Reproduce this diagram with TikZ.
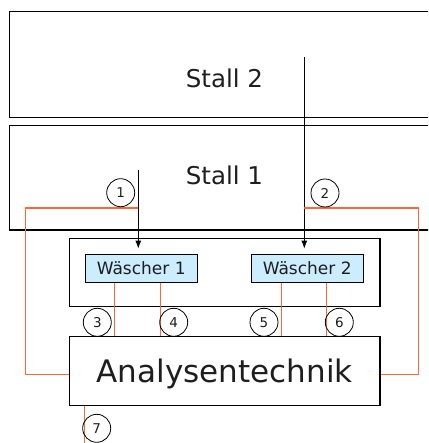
\documentclass[tikz,border=0pt]{standalone}
\usepackage{fontspec}
\setmainfont{DejaVu Sans}
\usetikzlibrary{calc,arrows.meta,positioning}
\definecolor{probeorange}{RGB}{255,102,51}
\definecolor{waschblau}{RGB}{204,236,255}
\definecolor{schrift}{RGB}{30,30,30}

\begin{document}
\begin{tikzpicture}[x=1pt,y=-1pt,
    stall/.style={draw,line width=1.3pt},
    box/.style={draw,line width=1.2pt,inner sep=0pt,text=schrift},
    waescher/.style={box,fill=waschblau,minimum width=112pt,minimum height=28pt,
                     text depth=0pt,font=\fontsize{17}{20}\selectfont},
    pfeil/.style={-{Latex[length=8pt,width=6pt]},line width=1pt},
    probe/.style={probeorange,line width=1pt},
    nummer/.style={circle,draw,line width=0.8pt,minimum size=28pt,inner sep=0pt,
                   text=schrift,font=\fontsize{13.5}{15}\selectfont}]
\useasboundingbox (0,0) rectangle (428,443);
\clip (0,0) rectangle (428,443);

% Stalle
\draw[stall] (9.5,11.3) rectangle (440,117.3);
\node[text=schrift,font=\fontsize{24.5}{28}\selectfont] (stall2) at (224.5,78) {Stall 2};
\draw[stall] (9.5,125.3) rectangle (440,230);
\node[text=schrift,font=\fontsize{24.5}{28}\selectfont] (stall1) at (224.5,175.5) {Stall 1};

% Waescher und Analyse
\node[box,minimum width=310.7pt,minimum height=68.4pt] (anlage) at (224.65,272.5) {};
\node[waescher] (w1) at (141.2,268.3) {Wäscher 1};
\node[waescher] (w2) at (307.2,268.3) {Wäscher 2};
\node[box,minimum width=310.7pt,minimum height=69pt,text depth=0pt,
      font=\fontsize{31}{36}\selectfont] (analyse) at (224.65,371.2) {Analysentechnik};

% Abluft
\coordinate (ab1) at (138.3,170);
\coordinate (ab2) at (304.3,57);
\draw[pfeil] (ab1) -- ($(ab1 |- w1.north)+(0,-5)$);
\draw[pfeil] (ab2) -- ($(ab2 |- w2.north)+(0,-5)$);

% Messleitungen
\coordinate (t1) at (138.3,208);
\coordinate (t2) at (304.3,208);
\draw[probe] (t1) -- ++(-113.3,0) |- ([yshift=-3pt]analyse.west);
\draw[probe] (t2) -- ++(114,0) |- ([yshift=-3pt]analyse.east);
\draw[probe] ($(w1.south west)+(30,0)$) coordinate (p3) -- (p3 |- analyse.north);
\draw[probe] ($(w1.south west)+(76,0)$) coordinate (p4) -- (p4 |- analyse.north);
\draw[probe] ($(w2.south west)+(31,0)$) coordinate (p5) -- (p5 |- analyse.north);
\draw[probe] ($(w2.south west)+(76,0)$) coordinate (p6) -- (p6 |- analyse.north);
\draw[probe] ($(analyse.south west)+(15.7,0)$) coordinate (p7) -- ++(0,45);

% Messstellen
\node[nummer] (n1) at (120.7,192.7) {1};
\node[nummer] (n2) at (325,193) {2};
\node[nummer] (n3) at (97.3,322.3) {3};
\node[nummer] (n4) at (173.7,322.3) {4};
\node[nummer] (n5) at (264,322.3) {5};
\node[nummer] (n6) at (339.3,322.3) {6};
\node[nummer] (n7) at (96.7,428.3) {7};
\end{tikzpicture}
\end{document}
